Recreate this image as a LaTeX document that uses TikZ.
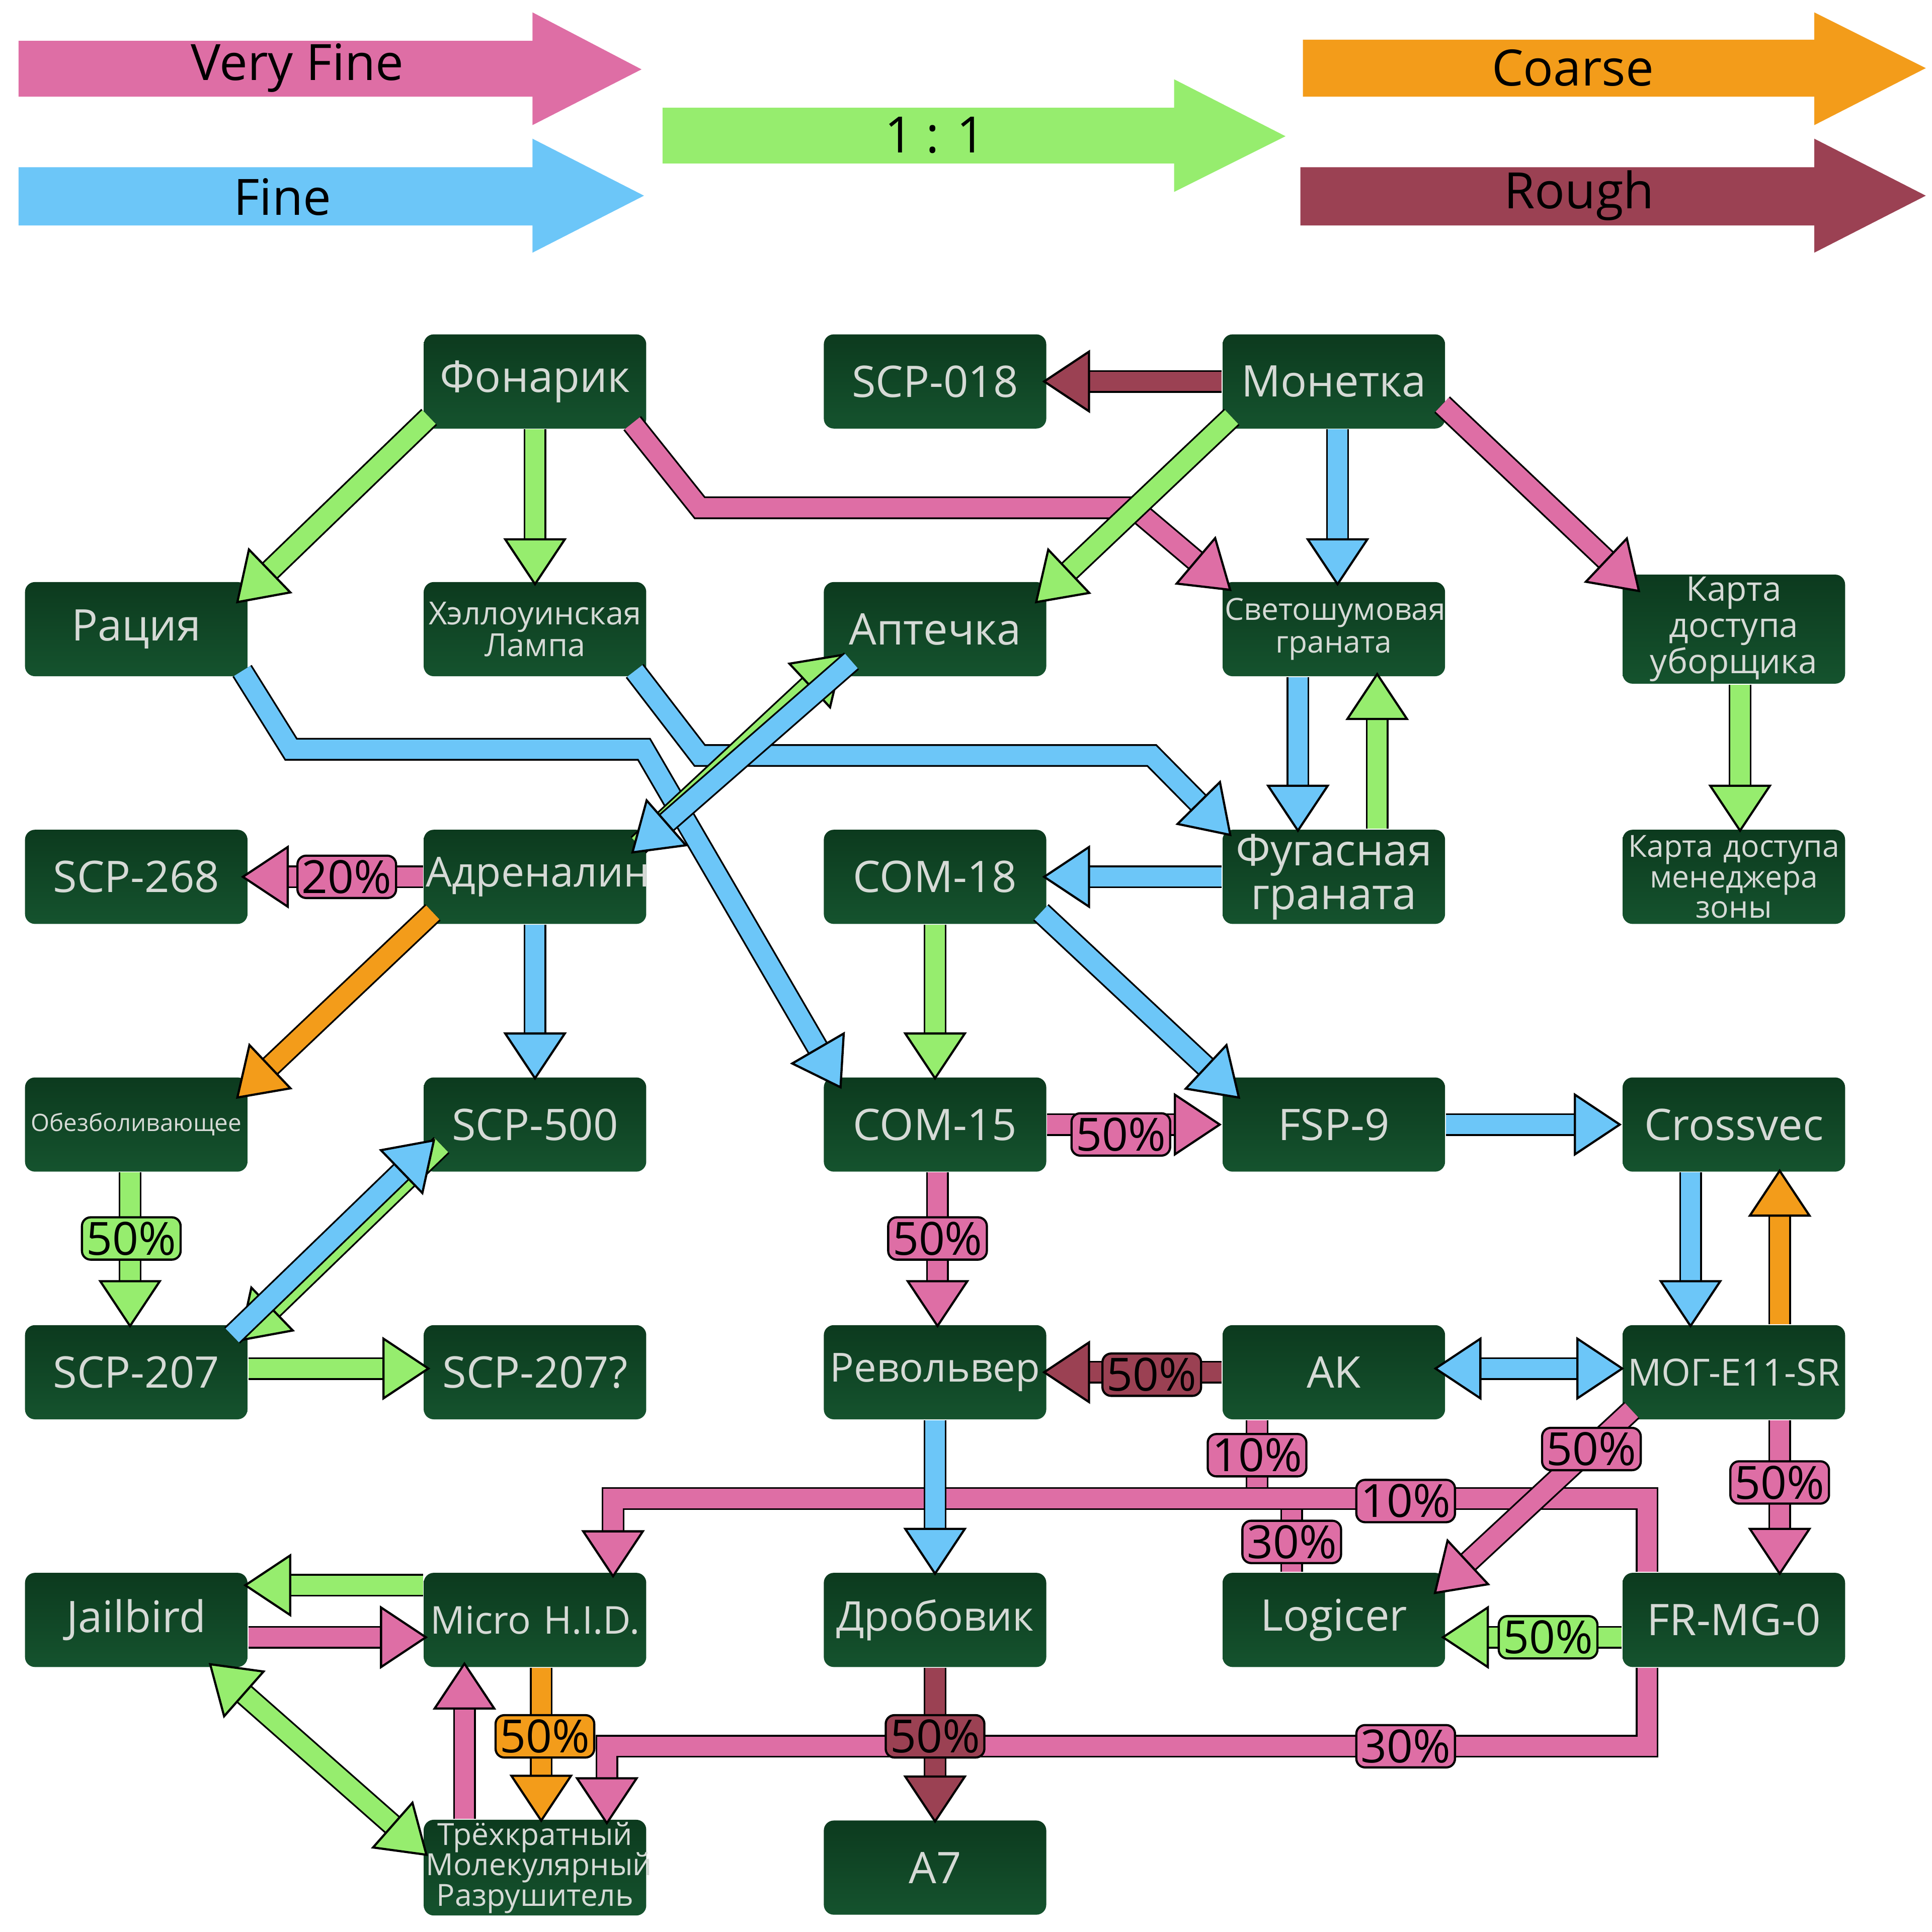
\documentclass[tikz,border=0pt]{standalone}
\usepackage{fontspec}
\setmainfont{Open Sans}
\usetikzlibrary{arrows.meta,calc}
\definecolor{pk}{HTML}{DE6EA5}
\definecolor{bl}{HTML}{6CC6F8}
\definecolor{gr}{HTML}{96ED6E}
\definecolor{or}{HTML}{F39C1A}
\definecolor{mr}{HTML}{9B4153}
\definecolor{txt}{HTML}{D6DAD6}
\definecolor{bxtop}{HTML}{0C3A1E}
\definecolor{bxbot}{HTML}{15532E}
\tikzset{
  box/.style={rounded corners=0.08cm, minimum width=1.78cm, minimum height=0.76cm,
    text width=1.76cm, top color=bxtop, bottom color=bxbot, draw=none,
    text=txt, font=\fontsize{10}{10}\selectfont, align=center, inner sep=0.5pt},
  small/.style={font=\fontsize{7.3}{7.3}\selectfont},
  lab/.style={draw=black, rounded corners=2pt, inner sep=1pt, line width=0.5pt,
    font=\fontsize{10.5}{10.5}\selectfont},
  legtext/.style={font=\fontsize{11.5}{11.5}\selectfont, text=black}
}
%% fat arrow: shaft with outline, then the head
\newcommand\farr[2]{%
  \draw[black,line width=5.2pt,shorten >=9pt] #2;
  \draw[#1,line width=4.4pt,shorten >=9pt] #2;
  \draw[#1,line width=0.1pt,-{Triangle[length=11pt,width=14.5pt,fill=#1,color=black,line width=0.5pt]}] #2;}
\newcommand\farrb[2]{%
  \draw[black,line width=5.2pt,shorten >=9pt,shorten <=9pt] #2;
  \draw[#1,line width=4.4pt,shorten >=9pt,shorten <=9pt] #2;
  \draw[#1,line width=0.1pt,{Triangle[length=11pt,width=14.5pt,fill=#1,color=black,line width=0.5pt]}-{Triangle[length=11pt,width=14.5pt,fill=#1,color=black,line width=0.5pt]}] #2;}
\newcommand\fline[2]{%
  \draw[black,line width=5.2pt] #2;
  \draw[#1,line width=4.4pt] #2;}
\begin{document}
\begin{tikzpicture}[x=0.01cm,y=-0.01cm]
  \useasboundingbox (0,0) rectangle (1560,1560);

  %% legend
  \fill[pk] (15,33) -- (430,33) -- (430,10) -- (518,56) -- (430,101) -- (430,78) -- (15,78) -- cycle;
  \fill[bl] (15,135) -- (430,135) -- (430,112) -- (520,158) -- (430,204) -- (430,182) -- (15,182) -- cycle;
  \fill[gr] (535,87) -- (948,87) -- (948,64) -- (1038,110) -- (948,155) -- (948,132) -- (535,132) -- cycle;
  \fill[or] (1052,32) -- (1465,32) -- (1465,10) -- (1555,55) -- (1465,101) -- (1465,78) -- (1052,78) -- cycle;
  \fill[mr] (1050,135) -- (1465,135) -- (1465,112) -- (1555,158) -- (1465,204) -- (1465,182) -- (1050,182) -- cycle;
  \node[legtext] (vfine) at (240,55) {Very Fine};
  \node[legtext] (fine) at (228,159) {Fine};
  \node[legtext] (one) at (755,109) {1 : 1};
  \node[legtext] (coarse) at (1270,55) {Coarse};
  \node[legtext] (rough) at (1275,158) {Rough};

  %% items
  \node[box] (fon) at (432,308) {Фонарик};
  \node[box] (s018) at (755,308) {SCP-018};
  \node[box] (mon) at (1077,308) {Монетка};
  \node[box] (rac) at (110,508) {Рация};
  \node[box,small] (hal) at (432,508) {Хэллоуинская\\Лампа};
  \node[box] (apt) at (755,508) {Аптечка};
  \node[box,small,font=\fontsize{7}{7.5}\selectfont] (svet) at (1077,508) {Светошумовая\\граната};
  \node[box,small,font=\fontsize{7.8}{8.3}\selectfont] (kub) at (1400,508) {Карта доступа\\уборщика};
  \node[box] (s268) at (110,708) {SCP-268};
  \node[box,font=\fontsize{9.5}{9.5}\selectfont] (adr) at (432,708) {Адреналин};
  \node[box] (c18) at (755,708) {COM-18};
  \node[box] (fug) at (1077,708) {Фугасная\\граната};
  \node[box,small,font=\fontsize{7}{7}\selectfont] (kman) at (1400,708) {Карта доступа\\менеджера\\зоны};
  \node[box,font=\fontsize{5.5}{5.5}\selectfont] (obez) at (110,908) {Обезболивающее};
  \node[box] (s500) at (432,908) {SCP-500};
  \node[box] (c15) at (755,908) {COM-15};
  \node[box] (fsp) at (1077,908) {FSP-9};
  \node[box] (cros) at (1400,908) {Crossvec};
  \node[box] (s207) at (110,1108) {SCP-207};
  \node[box] (s207q) at (432,1108) {SCP-207?};
  \node[box,font=\fontsize{9.2}{9.2}\selectfont] (rev) at (755,1108) {Револьвер};
  \node[box] (ak) at (1077,1108) {AK};
  \node[box,font=\fontsize{8.6}{8.6}\selectfont] (mog) at (1400,1108) {МОГ-E11-SR};
  \node[box] (jail) at (110,1308) {Jailbird};
  \node[box,font=\fontsize{8.8}{8.8}\selectfont] (micro) at (432,1308) {Micro H.I.D.};
  \node[box,font=\fontsize{9.4}{9.4}\selectfont] (drob) at (755,1308) {Дробовик};
  \node[box] (logi) at (1077,1308) {Logicer};
  \node[box] (frmg) at (1400,1308) {FR-MG-0};
  \node[box,small,font=\fontsize{7}{7}\selectfont] (tri) at (432,1508) {Трёхкратный\\Молекулярный\\Разрушитель};
  \node[box] (a7) at (755,1508) {A7};

  %% connectors
  \farr{gr}{($(fon.south west)+(5,-10)$) -- ($(rac.north east)+(-10,18)$)}
  \farr{gr}{(fon.south) -- ($(hal.north)+(0,4)$)}
  \farr{pk}{($(fon.south east)+(-12,-5)$) -- (565,410) -- (915,410) -- ($(svet.north west)+(8,8)$)}
  \farr{mr}{(mon.west) -- ($(s018.east)+(-4,0)$)}
  \farr{gr}{($(mon.south west)+(8,-10)$) -- ($(apt.north east)+(-10,18)$)}
  \farr{bl}{($(mon.south)+(3,0)$) -- ($(svet.north)+(3,4)$)}
  \farr{pk}{($(mon.south east)+(-3,-20)$) -- ($(kub.north west)+(15,15)$)}
  \farr{bl}{($(rac.south east)+(-5,-5)$) -- (235,605) -- (520,605) -- ($(c15.north west)+(15,10)$)}
  \farr{bl}{($(hal.south east)+(-10,-5)$) -- (565,610) -- (930,610) -- ($(fug.north west)+(8,6)$)}
  \farr{gr}{($(adr.north east)+(-7,13)$) -- ($(apt.south west)+(17,-19)$)}
  \farr{bl}{($(apt.south west)+(23,-13)$) -- ($(adr.north east)+(-13,20)$)}
  \farr{bl}{($(svet.south)+(-29,0)$) -- ($(fug.north)+(-29,3)$)}
  \farr{gr}{($(fug.north)+(35,0)$) -- ($(svet.south)+(35,-4)$)}
  \farr{gr}{($(kub.south)+(5,0)$) -- ($(kman.north)+(5,3)$)}
  \farr{pk}{(adr.west) -- ($(s268.east)+(-6,0)$)}
  \farr{bl}{(fug.west) -- ($(c18.east)+(-4,0)$)}
  \farr{or}{($(adr.south west)+(8,-10)$) -- ($(obez.north east)+(-10,18)$)}
  \farr{bl}{(adr.south) -- ($(s500.north)+(0,3)$)}
  \farr{gr}{(c18.south) -- ($(c15.north)+(0,3)$)}
  \farr{bl}{($(c18.south east)+(-5,-10)$) -- ($(fsp.north west)+(15,18)$)}
  \farr{pk}{(c15.east) -- (fsp.west)}
  \farr{bl}{(fsp.east) -- (cros.west)}
  \farr{gr}{($(obez.south)+(-5,0)$) -- ($(s207.north)+(-5,3)$)}
  \farr{gr}{($(s500.south west)+(15,-22)$) -- ($(s207.north east)+(-8,14)$)}
  \farr{bl}{($(s207.north east)+(-13,9)$) -- ($(s500.south west)+(10,-27)$)}
  \farr{pk}{($(c15.south)+(2,0)$) -- ($(rev.north)+(2,3)$)}
  \farr{bl}{($(cros.south)+(-35,0)$) -- ($(mog.north)+(-35,3)$)}
  \farr{or}{($(mog.north)+(37,0)$) -- ($(cros.south)+(37,-3)$)}
  \farr{gr}{($(s207.east)+(0,-3)$) -- ($(s207q.west)+(6,-3)$)}
  \farr{mr}{(ak.west) -- ($(rev.east)+(-4,0)$)}
  \farrb{bl}{($(ak.east)+(-10,-3)$) -- ($(mog.west)+(2,-3)$)}
  \fline{pk}{($(ak.south)+(-62,0)$) -- (1015,1210)}
  \fline{pk}{(1043,1210) -- ($(logi.north)+(-34,0)$)}
  \farr{pk}{($(frmg.north)+(-70,0)$) -- (1330,1210) -- (495,1210) -- ($(micro.north)+(63,5)$)}
  \farr{pk}{($(mog.south west)+(8,-8)$) -- ($(logi.north east)+(-10,18)$)}
  \farr{pk}{($(mog.south)+(37,0)$) -- ($(frmg.north)+(37,3)$)}
  \farr{gr}{($(frmg.west)+(0,14)$) -- ($(logi.east)+(-4,14)$)}
  \farr{bl}{(rev.south) -- ($(drob.north)+(0,3)$)}
  \farr{gr}{($(micro.west)+(0,-28)$) -- ($(jail.east)+(-4,-28)$)}
  \farr{pk}{($(jail.east)+(0,14)$) -- ($(micro.west)+(4,14)$)}
  \farrb{gr}{($(jail.south east)+(-32,-4)$) -- ($(tri.north west)+(4,30)$)}
  \farr{pk}{($(tri.north)+(-57,0)$) -- ($(micro.south)+(-57,-5)$)}
  \farr{or}{($(micro.south)+(5,0)$) -- ($(tri.north)+(5,3)$)}
  \farr{mr}{(drob.south) -- ($(a7.north)+(0,3)$)}
  \farr{pk}{($(frmg.south)+(-70,0)$) -- (1330,1410) -- (490,1410) -- ($(tri.north)+(58,5)$)}

  %% percentages
  \node[lab,fill=pk] (l1) at (280,708) {20\%};
  \node[lab,fill=pk] (l2) at (905,916) {50\%};
  \node[lab,fill=gr] (l3) at (106,1000) {50\%};
  \node[lab,fill=pk] (l4) at (757,1000) {50\%};
  \node[lab,fill=mr] (l5) at (930,1110) {50\%};
  \node[lab,fill=pk] (l6) at (1015,1175) {10\%};
  \node[lab,fill=pk] (l7) at (1135,1212) {10\%};
  \node[lab,fill=pk] (l8) at (1043,1245) {30\%};
  \node[lab,fill=pk] (l9) at (1285,1170) {50\%};
  \node[lab,fill=pk] (l10) at (1437,1197) {50\%};
  \node[lab,fill=gr] (l11) at (1250,1322) {50\%};
  \node[lab,fill=or] (l12) at (440,1402) {50\%};
  \node[lab,fill=mr] (l13) at (755,1402) {50\%};
  \node[lab,fill=pk] (l14) at (1135,1410) {30\%};
\end{tikzpicture}
\end{document}
